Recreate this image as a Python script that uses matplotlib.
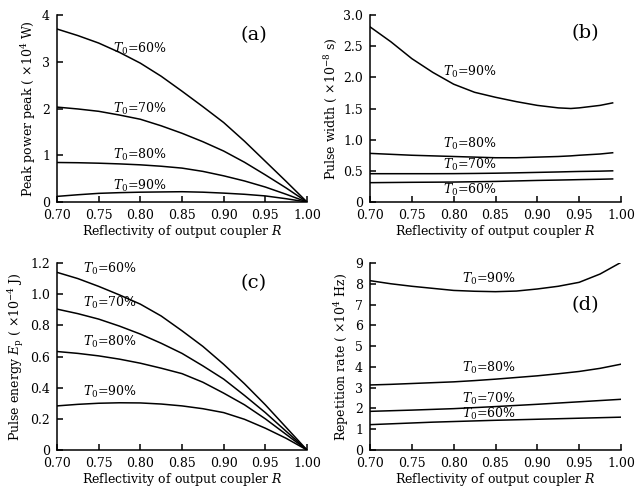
import matplotlib
matplotlib.use("Agg")
import matplotlib.pyplot as plt

plt.rcParams['font.family'] = ['DejaVu Serif']
plt.rcParams['mathtext.fontset'] = 'dejavuserif'
plt.rcParams['font.size'] = 9

# reflectivity R
r_full = [0.70, 0.725, 0.75, 0.775, 0.80, 0.825, 0.85, 0.875, 0.90, 0.925, 0.95, 0.975, 1.00]
r_pw = [0.70, 0.725, 0.75, 0.775, 0.80, 0.825, 0.85, 0.875, 0.90, 0.925, 0.94, 0.95, 0.975, 0.99]

# (a) peak power, x10^4 W
peak_60 = [3.70, 3.56, 3.40, 3.20, 2.97, 2.69, 2.37, 2.04, 1.70, 1.30, 0.87, 0.44, 0.0]
peak_70 = [2.03, 1.99, 1.94, 1.86, 1.77, 1.63, 1.47, 1.29, 1.09, 0.85, 0.58, 0.30, 0.0]
peak_80 = [0.845, 0.84, 0.83, 0.815, 0.795, 0.765, 0.725, 0.655, 0.56, 0.45, 0.32, 0.165, 0.0]
peak_90 = [0.12, 0.155, 0.185, 0.20, 0.21, 0.215, 0.22, 0.21, 0.19, 0.165, 0.13, 0.07, 0.0]

# (b) pulse width, x10^-8 s
pw_90 = [2.81, 2.57, 2.30, 2.08, 1.89, 1.76, 1.68, 1.61, 1.55, 1.51, 1.50, 1.51, 1.55, 1.59]
pw_80 = [0.78, 0.765, 0.75, 0.74, 0.73, 0.72, 0.71, 0.71, 0.72, 0.73, 0.74, 0.75, 0.77, 0.79]
pw_70 = [0.454, 0.454, 0.454, 0.454, 0.455, 0.458, 0.462, 0.468, 0.475, 0.482, 0.487, 0.49, 0.495, 0.50]
pw_60 = [0.31, 0.313, 0.316, 0.318, 0.32, 0.325, 0.33, 0.338, 0.346, 0.352, 0.356, 0.359, 0.365, 0.37]

# (c) pulse energy, x10^-4 J
ep_60 = [1.14, 1.10, 1.05, 0.995, 0.936, 0.86, 0.765, 0.665, 0.55, 0.425, 0.29, 0.145, 0.0]
ep_70 = [0.904, 0.875, 0.84, 0.795, 0.744, 0.685, 0.62, 0.54, 0.455, 0.35, 0.24, 0.12, 0.0]
ep_80 = [0.632, 0.62, 0.604, 0.583, 0.557, 0.525, 0.49, 0.435, 0.365, 0.29, 0.20, 0.10, 0.0]
ep_90 = [0.283, 0.293, 0.30, 0.303, 0.302, 0.295, 0.283, 0.265, 0.24, 0.197, 0.14, 0.075, 0.0]

# (d) repetition rate, x10^4 Hz
rr_90 = [8.15, 8.00, 7.88, 7.78, 7.68, 7.64, 7.62, 7.65, 7.75, 7.88, 8.07, 8.47, 9.03]
rr_80 = [3.13, 3.16, 3.20, 3.24, 3.28, 3.34, 3.41, 3.49, 3.57, 3.67, 3.78, 3.93, 4.13]
rr_70 = [1.86, 1.89, 1.92, 1.955, 1.99, 2.04, 2.09, 2.145, 2.20, 2.26, 2.32, 2.38, 2.44]
rr_60 = [1.22, 1.26, 1.30, 1.34, 1.37, 1.40, 1.43, 1.455, 1.48, 1.505, 1.53, 1.555, 1.58]

t_labels = ['60%', '70%', '80%', '90%']
x_ticks = [0.70, 0.75, 0.80, 0.85, 0.90, 0.95, 1.00]
xlabel = r'Reflectivity of output coupler $R$'


def style(ax, yticks, ylabels, ymax):
    ax.set_xlim(0.70, 1.00)
    ax.set_ylim(0, ymax)
    ax.spines['top'].set_visible(False)
    ax.spines['right'].set_visible(False)
    for s in ['left', 'bottom']:
        ax.spines[s].set_linewidth(1.1)
    ax.tick_params(direction='in', length=4, width=1.1)
    ax.tick_params(axis='x', pad=5)
    ax.tick_params(axis='y', pad=5)
    ax.set_xticks(x_ticks)
    ax.set_xticklabels(['%.2f' % v for v in x_ticks])
    ax.set_yticks(yticks)
    ax.set_yticklabels(ylabels)
    ax.set_xlabel(xlabel, labelpad=1)


fig = plt.figure(figsize=(6.43, 4.88), dpi=100)
w, h = 250 / 643, 187 / 488
ax_a = fig.add_axes([57 / 643, 1 - 202 / 488, w, h])
ax_b = fig.add_axes([370 / 643, 1 - 202 / 488, 251 / 643, h])
ax_c = fig.add_axes([57 / 643, 1 - 450 / 488, w, h])
ax_d = fig.add_axes([370 / 643, 1 - 450 / 488, 251 / 643, h])

lw = 1.1

# (a)
for ys in [peak_60, peak_70, peak_80, peak_90]:
    ax_a.plot(r_full, ys, color='black', lw=lw)
style(ax_a, [0, 1, 2, 3, 4], ['0', '1', '2', '3', '4'], 4)
ax_a.set_ylabel(r'Peak power peak ( $\times$10$^4$ W)', labelpad=3)
for lab, y in zip(t_labels, [3.27, 1.99, 1.0, 0.34]):
    ax_a.text(0.80, y, r'$T_0$=' + lab, ha='center', va='center')
ax_a.text(0.936, 3.58, '(a)', ha='center', va='center', fontsize=14)

# (b)
for ys in [pw_90, pw_80, pw_70, pw_60]:
    ax_b.plot(r_pw, ys, color='black', lw=lw)
style(ax_b, [0, 0.5, 1.0, 1.5, 2.0, 2.5, 3.0], ['0', '0.5', '1.0', '1.5', '2.0', '2.5', '3.0'], 3.0)
ax_b.set_ylabel(r'Pulse width ( $\times$10$^{-8}$ s)', labelpad=3)
for lab, y in zip(['90%', '80%', '70%', '60%'], [2.09, 0.93, 0.60, 0.19]):
    ax_b.text(0.82, y, r'$T_0$=' + lab, ha='center', va='center')
ax_b.text(0.957, 2.71, '(b)', ha='center', va='center', fontsize=14)

# (c)
for ys in [ep_60, ep_70, ep_80, ep_90]:
    ax_c.plot(r_full, ys, color='black', lw=lw)
style(ax_c, [0, 0.2, 0.4, 0.6, 0.8, 1.0, 1.2], ['0', '0.2', '0.4', '0.6', '0.8', '1.0', '1.2'], 1.2)
ax_c.set_ylabel(r'Pulse energy $E_{\rm p}$ ( $\times$10$^{-4}$ J)', labelpad=3)
for lab, y in zip(t_labels, [1.161, 0.943, 0.696, 0.375]):
    ax_c.text(0.764, y, r'$T_0$=' + lab, ha='center', va='center')
ax_c.text(0.936, 1.07, '(c)', ha='center', va='center', fontsize=14)

# (d)
for ys in [rr_90, rr_80, rr_70, rr_60]:
    ax_d.plot(r_full, ys, color='black', lw=lw)
style(ax_d, list(range(10)), [str(v) for v in range(10)], 9)
ax_d.set_ylabel(r'Repetition rate ( $\times$10$^4$ Hz)', labelpad=3)
for lab, y in zip(['90%', '80%', '70%', '60%'], [8.25, 3.93, 2.48, 1.73]):
    ax_d.text(0.842, y, r'$T_0$=' + lab, ha='center', va='center')
ax_d.text(0.957, 6.97, '(d)', ha='center', va='center', fontsize=14)

fig.savefig('out.png', dpi=100)
